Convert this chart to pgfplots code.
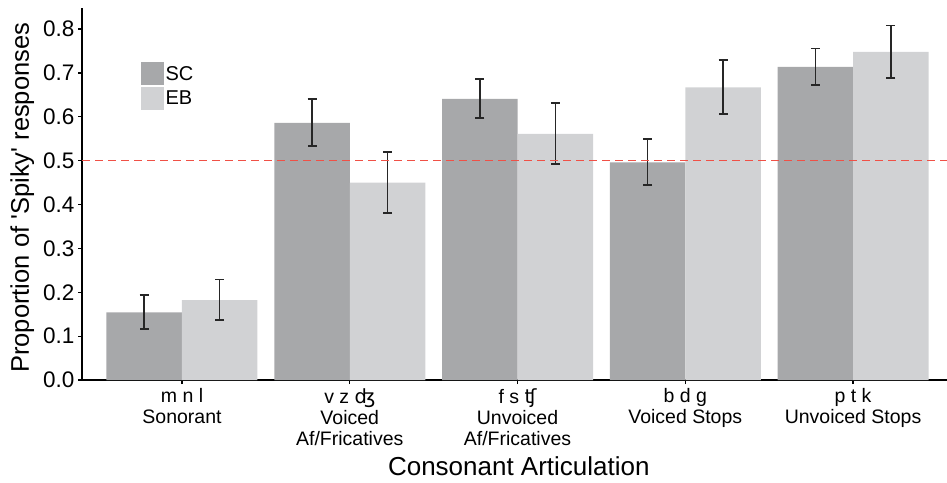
\documentclass[border=0pt]{standalone}
\usepackage{fontspec}
\setmainfont{Liberation Sans}
\newfontfamily\ipa{DejaVu Sans}
\usepackage{pgfplots}
\pgfplotsset{compat=1.18}
\usepackage{pgfplotstable}
\definecolor{scgray}{RGB}{167,168,170}
\definecolor{ebgray}{RGB}{209,210,212}
\definecolor{refred}{RGB}{240,80,70}
\pgfplotstableread{
x y ep em
0 0.154 0.040 0.038
1 0.586 0.054 0.053
2 0.641 0.045 0.044
3 0.496 0.053 0.052
4 0.714 0.042 0.042
}\sctab
\pgfplotstableread{
x y ep em
0 0.182 0.047 0.045
1 0.450 0.070 0.069
2 0.561 0.070 0.069
3 0.667 0.062 0.061
4 0.748 0.060 0.059
}\ebtab
\begin{document}
\begin{tikzpicture}
\useasboundingbox (0,0) rectangle (947pt,482pt);
\begin{axis}[
  at={(82pt,102pt)}, anchor=south west,
  scale only axis, width=865pt, height=372pt,
  xmin=-0.596, xmax=4.56, ymin=0, ymax=0.848,
  axis x line*=bottom, axis y line*=left,
  axis line style={line width=1.4pt,-},
  ybar=0pt, bar width=0.45,
  xtick={0,1,2,3,4},
  xticklabels={{m n l\\Sonorant},{v z {\ipa ʤ}\\Voiced\\Af/Fricatives},{f s {\ipa ʧ}\\Unvoiced\\Af/Fricatives},{b d g\\Voiced Stops},{p t k\\Unvoiced Stops}},
  xticklabel style={align=center, font=\fontsize{19.5}{21}\selectfont, yshift=-1pt},
  ytick={0,0.1,...,0.81},
  yticklabel style={/pgf/number format/fixed, /pgf/number format/precision=1, /pgf/number format/fixed zerofill, font=\fontsize{22.5}{24}\selectfont},
  /pgf/number format/assume math mode=true,
  tick style={line width=1.2pt, black},
  tick align=outside, major tick length=4pt,
  xlabel={Consonant Articulation},
  xlabel style={font=\fontsize{26}{28}\selectfont, at={(axis description cs:0.505,-0.231)}, anchor=center},
  ylabel={Proportion of \textquotesingle Spiky\textquotesingle\ responses},
  ylabel style={font=\fontsize{25.5}{27}\selectfont, at={(axis description cs:-0.069,0.49)}, anchor=center, rotate=0},
  legend cell align=left,
  legend style={at={(axis description cs:0.064,0.86)}, anchor=north west, draw=none, fill=none, font=\fontsize{20}{22}\selectfont, row sep=2pt},
  legend image code/.code={\fill[#1] (0pt,-11.5pt) rectangle (23pt,11.5pt);},
  error bars/y dir=both, error bars/y explicit,
  error bars/error bar style={line width=1.5pt, black!85},
  error bars/error mark options={rotate=90, mark size=4.5pt, line width=1.5pt, black!85},
]
\addplot[fill=scgray, draw=none, bar shift=-0.225] table[x=x, y=y, y error plus=ep, y error minus=em] {\sctab};
\addlegendentry{SC}
\addplot[fill=ebgray, draw=none, bar shift=0.225] table[x=x, y=y, y error plus=ep, y error minus=em] {\ebtab};
\addlegendentry{EB}
\addplot[sharp plot, refred, line width=1.2pt, dash pattern=on 8pt off 5pt, forget plot, no markers, error bars/y dir=none] coordinates {(-0.596,0.5) (4.56,0.5)};
\end{axis}
\end{tikzpicture}
\end{document}
